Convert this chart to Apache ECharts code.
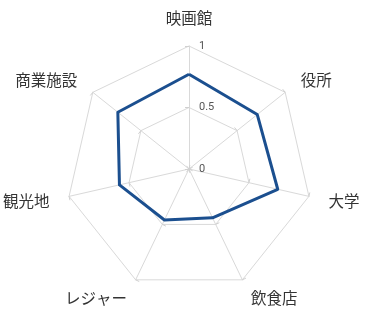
<!DOCTYPE html>
<html>
<head>
<meta charset="utf-8">
<script src="https://cdn.jsdelivr.net/npm/echarts@6/dist/echarts.min.js"></script>
<style>
  html, body { margin: 0; padding: 0; background: #fff; }
  #chart { width: 367px; height: 314px; }
</style>
</head>
<body>
<div id="chart"></div>
<script>
// 時計回り（上から）に読んだ順
const categories = ['映画館', '役所', '大学', '飲食店', 'レジャー', '観光地', '商業施設'];
const values = [0.77, 0.71, 0.74, 0.44, 0.46, 0.58, 0.74];
const axisMax = 1;

// ECharts の radar は反時計回りに並べるので、先頭以外を逆順にする
const order = [0].concat(categories.map((_, i) => i).slice(1).reverse());

const chart = echarts.init(document.getElementById('chart'), null, { renderer: 'canvas' });

chart.setOption({
  backgroundColor: '#ffffff',
  animation: false,
  radar: {
    center: [189, 169],
    radius: 123,
    shape: 'polygon',
    splitNumber: 2,
    nameGap: 20,
    axisName: {
      color: '#333',
      fontSize: 15.5,
      fontFamily: 'Noto Sans CJK JP'
    },
    axisLine: { lineStyle: { color: '#d9d9d9', width: 1 } },
    splitLine: { lineStyle: { color: '#d9d9d9', width: 1 } },
    splitArea: { show: false },
    axisTick: { show: true, length: 4, lineStyle: { color: '#d0d0d0' } },
    axisLabel: { show: false },
    indicator: order.map((i, k) => {
      const ind = { name: categories[i], min: 0, max: axisMax };
      if (k === 0) {
        ind.axisLabel = {
          show: true, color: '#555', fontSize: 11, fontFamily: 'Roboto',
          align: 'left', margin: -10
        };
      }
      return ind;
    })
  },
  series: [{
    type: 'radar',
    symbol: 'none',
    lineStyle: { color: '#1b4f8f', width: 3 },
    data: [{ value: order.map((i) => values[i]) }]
  }]
});
</script>
</body>
</html>
